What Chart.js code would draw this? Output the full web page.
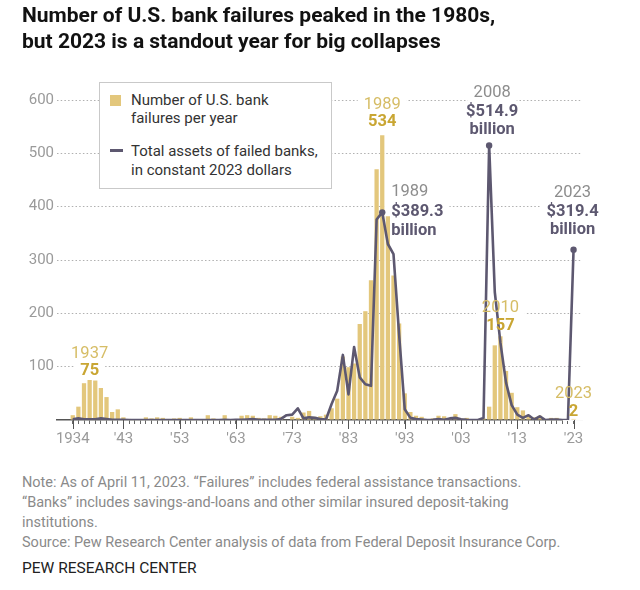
<!DOCTYPE html>
<html>
<head>
<meta charset="utf-8">
<script src="https://cdn.jsdelivr.net/npm/chart.js@4.4.0/dist/chart.umd.min.js"></script>
<style>
html,body{margin:0;padding:0;background:#fff;}
#wrap{position:relative;width:640px;height:590px;overflow:hidden;font-family:Roboto,'Liberation Sans',sans-serif;}
#c{position:absolute;left:0;top:0;}
.ln{position:absolute;white-space:nowrap;transform-origin:0 50%;}
.title{left:22px;font-family:'Liberation Sans Narrow',Roboto,sans-serif;font-weight:700;font-size:21px;line-height:26px;color:#111;}
.note{left:22px;font-family:'Liberation Sans Narrow',Roboto,sans-serif;font-size:14.5px;line-height:20px;color:#8a8a8a;}
.pew{left:22px;font-family:'Liberation Sans Narrow',Roboto,sans-serif;font-size:15.5px;line-height:20px;color:#222;}
#legend{position:absolute;left:99px;top:82px;width:231px;height:105px;border:1px solid #c9c9c9;background:#fff;}
.lg{left:31px;font-size:15px;line-height:18px;color:#333;}
#sw{position:absolute;left:10px;top:12px;width:11px;height:11px;background:#E3C77C;}
#lm{position:absolute;left:10px;top:66px;width:13px;height:3px;background:#5D5870;}
</style>
</head>
<body>
<div id="wrap">
  <canvas id="c" width="640" height="470"></canvas>
  <div class="ln title" data-g="title" data-w="452" style="top:2px">Number of U.S. bank failures peaked in the 1980s,</div>
  <div class="ln title" data-g="title" style="top:28px">but 2023 is a standout year for big collapses</div>
  <div id="legend">
    <div id="sw"></div>
    <div class="ln lg" data-g="lg" style="top:8px">Number of U.S. bank</div>
    <div class="ln lg" data-g="lg" style="top:26px">failures per year</div>
    <div id="lm"></div>
    <div class="ln lg" data-g="lg" data-w="184" style="top:59px">Total assets of failed banks,</div>
    <div class="ln lg" data-g="lg" style="top:78px">in constant 2023 dollars</div>
  </div>
  <div class="ln note" data-g="note" style="top:473px">Note: As of April 11, 2023. “Failures” includes federal assistance transactions.</div>
  <div class="ln note" data-g="note" style="top:493px">“Banks” includes savings-and-loans and other similar insured deposit-taking</div>
  <div class="ln note" data-g="note" style="top:513px">institutions.</div>
  <div class="ln note" data-g="note" data-w="490" style="top:533px">Source: Pew Research Center analysis of data from Federal Deposit Insurance Corp.</div>
  <div class="ln pew" data-g="pew" data-w="161" style="top:558px">PEW RESEARCH CENTER</div>
</div>
<script>
// ---- data ----
const years = [];
for (let y = 1934; y <= 2023; y++) years.push(y);

const failures = [
  9, 25, 69, 75, 74, 60, 43, 15, 20, 5,        // 1934-1943
  2, 1, 1, 5, 3, 5, 4, 2, 3, 4,                // 1944-1953
  2, 5, 2, 1, 9, 3, 1, 9, 1, 2,                // 1954-1963
  8, 9, 8, 4, 3, 9, 8, 6, 1, 6,                // 1964-1973
  4, 14, 17, 6, 7, 10, 22, 40, 119, 99,        // 1974-1983
  106, 180, 204, 262, 470, 534, 382, 271, 181, 50, // 1984-1993
  15, 8, 6, 1, 3, 8, 7, 4, 11, 3,              // 1994-2003
  4, 0, 0, 3, 25, 140, 157, 92, 51, 24,        // 2004-2013
  18, 8, 5, 8, 0, 4, 4, 0, 0, 2                // 2014-2023
];

const assets = [
  1.5, 3, 1.5, 1.5, 1.5, 3, 2, 0.5, 0.5, 0.3,          // 1934-1943
  0.1, 0.1, 0.1, 0.1, 0.1, 0.1, 0.1, 0.05, 0.05, 0.1,  // 1944-1953
  0.05, 0.1, 0.1, 0.01, 0.1, 0.02, 0.05, 0.5, 0.05, 0.2, // 1954-1963
  0.2, 1, 2, 0.3, 0.3, 0.6, 0.6, 2, 9, 10,             // 1964-1973
  22, 3, 5, 4, 2, 1, 30, 55, 122, 48,                  // 1974-1983
  137, 80, 67, 64, 376, 389.3, 330, 311, 160, 20,      // 1984-1993
  4, 2, 1, 0.1, 0.5, 2, 0.6, 3, 4, 1.5,                // 1994-2003
  0.3, 0, 0, 4, 514.9, 240, 145, 70, 28, 10,           // 2004-2013
  4, 9, 1, 7, 0, 1, 1, 0, 0, 319.4                     // 2014-2023
];

const tickYears = [1934, 1943, 1953, 1963, 1973, 1983, 1993, 2003, 2013, 2023];
const tickLabels = ['1934', "'43", "'53", "'63", "'73", "'83", "'93", "'03", "'13", "'23"];
const yTickValues = [0, 100, 200, 300, 400, 500, 600];
const barNoteYears = [1937, 1989, 2010, 2023];
const lineNoteYears = [1989, 2008, 2023];

// ---- styles ----
const BAR = '#E3C77C';
const LINE = '#5D5870';
const GOLD_YEAR = '#D6BD66';
const GOLD_VAL = '#C9A633';
const GRAY_YEAR = '#8d8d8d';
const GRAY_VAL = '#5D5870';
const FONT = 'Roboto, "Liberation Sans", sans-serif';

// label layout (style only)
const barNoteOffsets = {1937: [-26, -9], 1989: [-30, -13], 2010: [-28, -10], 2023: [-25, -7]};
const lineNoteLayout = {
  1989: {align: 'left', dx: 9, dy: [-20, 0, 19]},
  2008: {align: 'center', dx: 3, dy: [-53, -34, -16]},
  2023: {align: 'center', dx: -1, dy: [-57, -38, -20]}
};

function labelItems(chart) {
  const xs = chart.scales.x, ys = chart.scales.y;
  const items = [];
  barNoteYears.forEach(yr => {
    const i = years.indexOf(yr);
    const x = xs.getPixelForValue(yr);
    const top = ys.getPixelForValue(failures[i]);
    const off = barNoteOffsets[yr];
    items.push({text: String(yr), x, y: top + off[0], align: 'center', font: '400 16.5px ' + FONT, color: GOLD_YEAR});
    items.push({text: String(failures[i]), x, y: top + off[1], align: 'center', font: '700 16.5px ' + FONT, color: GOLD_VAL});
  });
  lineNoteYears.forEach(yr => {
    const i = years.indexOf(yr);
    const L = lineNoteLayout[yr];
    const x = xs.getPixelForValue(yr) + L.dx;
    const py = ys.getPixelForValue(assets[i]);
    items.push({text: String(yr), x, y: py + L.dy[0], align: L.align, font: '400 16.5px ' + FONT, color: GRAY_YEAR});
    items.push({text: '$' + assets[i].toFixed(1), x, y: py + L.dy[1], align: L.align, font: '700 16.5px ' + FONT, color: GRAY_VAL});
    items.push({text: 'billion', x, y: py + L.dy[2], align: L.align, font: '700 16.5px ' + FONT, color: GRAY_VAL});
  });
  return items;
}

const labelPlugin = {
  id: 'labels',
  beforeDatasetsDraw(chart) {
    const ctx = chart.ctx;
    ctx.save();
    ctx.fillStyle = '#fff';
    labelItems(chart).forEach(it => {
      ctx.font = it.font;
      const w = ctx.measureText(it.text).width;
      const left = it.align === 'center' ? it.x - w / 2 : it.x;
      ctx.fillRect(left - 6, it.y - 9, w + 12, 18);
    });
    ctx.restore();
  },
  afterDatasetsDraw(chart) {
    const ctx = chart.ctx;
    ctx.save();
    ctx.textBaseline = 'middle';
    labelItems(chart).forEach(it => {
      ctx.font = it.font;
      ctx.textAlign = it.align;
      ctx.fillStyle = it.color;
      ctx.fillText(it.text, it.x, it.y);
    });
    ctx.restore();
  },
  afterDraw(chart) {
    // longer ticks at labelled years
    const ctx = chart.ctx, xs = chart.scales.x, b = chart.chartArea.bottom;
    ctx.save();
    ctx.strokeStyle = '#555';
    ctx.lineWidth = 1;
    tickYears.forEach(yr => {
      const x = Math.round(xs.getPixelForValue(yr)) + 0.5;
      ctx.beginPath();
      ctx.moveTo(x, b);
      ctx.lineTo(x, b + 9);
      ctx.stroke();
    });
    ctx.restore();
  }
};

new Chart(document.getElementById('c'), {
  type: 'bar',
  data: {
    datasets: [
      {
        type: 'line',
        label: 'Total assets of failed banks, in constant 2023 dollars',
        data: years.map((y, i) => ({x: y, y: assets[i]})),
        borderColor: LINE,
        backgroundColor: LINE,
        borderWidth: 2.6,
        tension: 0,
        pointRadius: c => lineNoteYears.includes(years[c.dataIndex]) ? 3.2 : 0,
        pointBackgroundColor: LINE,
        pointBorderWidth: 0,
        borderJoinStyle: 'round',
        order: 1
      },
      {
        type: 'bar',
        label: 'Number of U.S. bank failures per year',
        data: years.map((y, i) => ({x: y, y: failures[i]})),
        backgroundColor: BAR,
        barPercentage: 0.76,
        categoryPercentage: 1,
        order: 2
      }
    ]
  },
  options: {
    responsive: false,
    animation: false,
    devicePixelRatio: 1,
    layout: {padding: {top: 100, right: 58, left: 0, bottom: 0}},
    plugins: {legend: {display: false}, tooltip: {enabled: false}},
    scales: {
      x: {
        type: 'linear',
        min: 1931.2,
        max: 2024.5,
        offset: false,
        afterBuildTicks: s => { s.ticks = years.map(v => ({value: v})); },
        afterFit: s => { s.height = 50; },
        ticks: {
          autoSkip: false, maxRotation: 0, minRotation: 0,
          padding: 6,
          color: '#9a9a9a',
          font: {family: FONT, size: 15},
          callback: v => { const k = tickYears.indexOf(v); return k < 0 ? '' : tickLabels[k]; }
        },
        grid: {offset: false, drawOnChartArea: false, drawTicks: true, tickLength: 4, tickColor: '#666', tickWidth: 1},
        border: {display: true, color: '#555', width: 1.5}
      },
      y: {
        min: 0,
        max: 600,
        afterBuildTicks: s => { s.ticks = yTickValues.map(v => ({value: v})); },
        afterFit: s => { s.width = 57; },
        ticks: {
          padding: 3,
          color: '#9a9a9a',
          font: {family: FONT, size: 15},
          callback: v => v === 0 ? '' : String(v)
        },
        grid: {drawTicks: false, lineWidth: 1, color: c => c.tick && c.tick.value === 0 ? 'rgba(0,0,0,0)' : '#b0b0b0'},
        border: {display: false, dash: [1.5, 2.2]}
      }
    }
  },
  plugins: [labelPlugin]
});

// fit HTML text lines to reference widths (per group scale)
function fit() {
  const groups = {};
  document.querySelectorAll('.ln').forEach(el => {
    const g = el.dataset.g;
    (groups[g] = groups[g] || []).push(el);
  });
  Object.values(groups).forEach(list => {
    const ref = list.find(e => e.dataset.w);
    if (!ref) return;
    const w = ref.getBoundingClientRect().width;
    const s = parseFloat(ref.dataset.w) / w;
    list.forEach(e => { e.style.transform = 'scaleX(' + s.toFixed(4) + ')'; });
  });
}
if (document.fonts && document.fonts.ready) document.fonts.ready.then(fit); else fit();
fit();
</script>
</body>
</html>
